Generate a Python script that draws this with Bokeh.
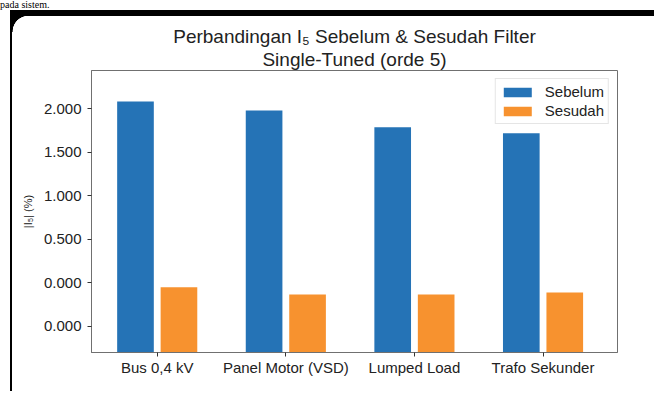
from bokeh.plotting import figure
from bokeh.models import Range1d, FixedTicker, ColumnDataSource, Div, Title
from bokeh.layouts import column
from bokeh.transform import dodge
from bokeh.embed import file_html
from bokeh.resources import INLINE

# ---- data ----
categories = ["Bus 0,4 kV", "Panel Motor (VSD)", "Lumped Load", "Trafo Sekunder"]
sebelum = [2.084, 1.980, 1.788, 1.719]
sesudah = [-0.051, -0.135, -0.135, -0.112]
y_ticks = [-0.5, 0.0, 0.5, 1.0, 1.5, 2.0]
y_tick_labels = ["0.000", "0.000", "0.500", "1.000", "1.500", "2.000"]
title_line1 = "Perbandingan I\u2085 Sebelum & Sesudah Filter"
title_line2 = "Single-Tuned (orde 5)"
y_label = "|I\u2085| (%)"
page_text = "pada sistem."

BLUE = "#2573b6"
ORANGE = "#f7922f"
FONT = "Liberation Sans"

y_start, y_end = -0.8024, 2.4404
idx = list(range(len(categories)))
src = ColumnDataSource(dict(x=idx, sebelum=sebelum, sesudah=sesudah))

# dark device frame + rounded white card, drawn behind the (transparent) canvas
card_bg = ("radial-gradient(circle 16px at 28.3px 21.5px, #ffffff 15.4px, rgba(255,255,255,0) 16px) no-repeat, "
           "linear-gradient(#ffffff, #ffffff) 28.3px 5.5px / 100% 100% no-repeat, "
           "linear-gradient(#ffffff, #ffffff) 12.3px 21.5px / 100% 100% no-repeat, "
           "linear-gradient(#000000, #000000) 10px 0px / 100% 100% no-repeat, "
           "#ffffff")

p = figure(width=654, height=381, output_backend="svg", toolbar_location=None,
           x_range=Range1d(-0.511, 3.579), y_range=Range1d(y_start, y_end),
           min_border_left=91, min_border_right=37, min_border_top=60, min_border_bottom=39,
           styles={"background": card_bg})
p.border_fill_color = None
p.background_fill_color = None
p.outline_line_color = "#707070"
p.outline_line_width = 1
p.xgrid.visible = False
p.ygrid.visible = False

# two centred title lines: line 2 sits next to the frame, line 1 (p.title) above it
p.add_layout(Title(text=title_line2, align="center", vertical_align="bottom",
                   text_font=FONT, text_font_size="19px", text_font_style="normal",
                   text_color="#222222", standoff=1), "above")
p.title.text = title_line1
p.title.align = "center"
p.title.vertical_align = "bottom"
p.title.text_font = FONT
p.title.text_font_size = "19px"
p.title.text_font_style = "normal"
p.title.text_color = "#222222"
p.title.standoff = 0

p.vbar(x=dodge("x", -0.169, range=p.x_range), top="sebelum", bottom=y_start, width=0.285,
       source=src, fill_color=BLUE, line_color=None, legend_label="Sebelum")
p.vbar(x=dodge("x", 0.169, range=p.x_range), top="sesudah", bottom=y_start, width=0.285,
       source=src, fill_color=ORANGE, line_color=None, legend_label="Sesudah")

# axes
for ax in (p.xaxis[0], p.yaxis[0]):
    ax.major_tick_out = 4
    ax.major_tick_in = 0
    ax.minor_tick_out = 0
    ax.minor_tick_in = 0
    ax.minor_tick_line_color = None
    ax.axis_line_color = "#707070"
    ax.major_tick_line_color = "#333333"
    ax.major_label_text_font = FONT
    ax.major_label_text_font_size = "15px"
    ax.major_label_text_color = "#222222"

p.xaxis.ticker = FixedTicker(ticks=idx)
p.xaxis.major_label_overrides = {i: c for i, c in zip(idx, categories)}
p.xaxis.major_label_standoff = 2

p.yaxis.ticker = FixedTicker(ticks=y_ticks)
p.yaxis.major_label_overrides = {t: l for t, l in zip(y_ticks, y_tick_labels)}
p.yaxis.major_label_standoff = 6
p.yaxis.axis_label = y_label
p.yaxis.axis_label_text_font = FONT
p.yaxis.axis_label_text_font_size = "11px"
p.yaxis.axis_label_text_font_style = "normal"
p.yaxis.axis_label_text_color = "#222222"
p.yaxis.axis_label_standoff = 7

# legend
lg = p.legend[0]
lg.location = "top_right"
lg.margin = 8
lg.padding = 4
lg.spacing = 2
lg.glyph_width = 35
lg.glyph_height = 12
lg.label_height = 16
lg.label_standoff = 10
lg.label_text_font = FONT
lg.label_text_font_size = "15px"
lg.label_text_color = "#222222"
lg.border_line_color = "#cccccc"
lg.border_line_width = 1
lg.background_fill_color = "white"
lg.background_fill_alpha = 1.0

# document text just above the card
doc_line = Div(text=page_text, width=654, height=10, margin=(0, 0, 0, 0),
               styles={"font-family": "Liberation Serif", "font-size": "10px",
                       "line-height": "10px", "color": "#000000"})

layout = column(doc_line, p, spacing=0)
open("out.html", "w").write(file_html(layout, INLINE))
